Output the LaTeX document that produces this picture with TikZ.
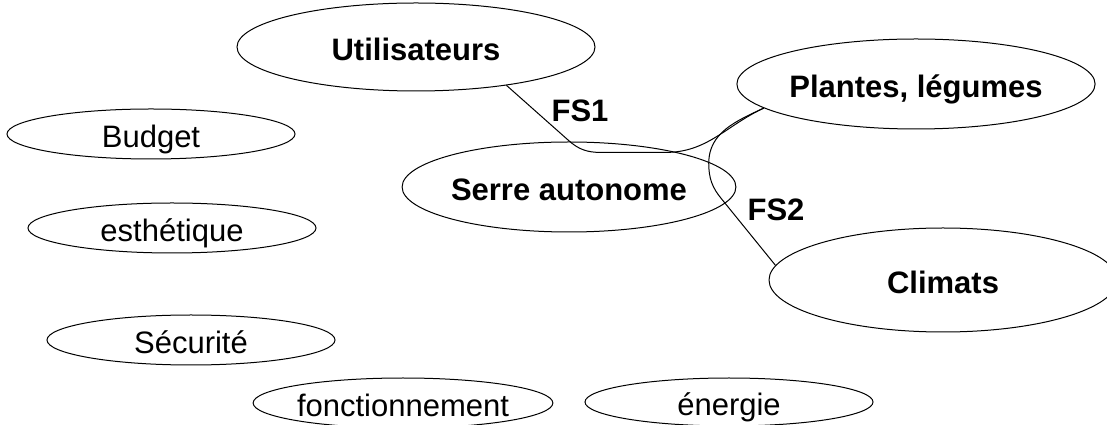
\documentclass[tikz,border=0pt]{standalone}
\usepackage{fontspec}
\setmainfont{Liberation Sans}
\usetikzlibrary{shapes.geometric, positioning}
\tikzset{
    % Base Ellipse Style
    bubble/.style={
        ellipse,
        draw=black,
        line width=1pt,
        inner sep=0pt,
        text height=27pt,
        text depth=0pt,
        font=\fontsize{31}{37}\selectfont
    },
    % Specific Role Styles
    mainBubble/.style={bubble, font=\fontsize{31}{37}\selectfont\bfseries},
    sideBubble/.style={bubble, minimum width=288pt, minimum height=50pt},
    % Connector & Label Styles
    link/.style={draw=black, line width=1pt},
    fsLabel/.style={font=\fontsize{31}{37}\selectfont\bfseries, inner sep=0pt}
}

\begin{document}
\begin{tikzpicture}[x=1pt, y=1pt]

    \useasboundingbox (0,0) rectangle (1107,425);

    % --- CENTRE AND PARTNERS ---
    \node (serre) [mainBubble, minimum width=320pt, minimum height=90pt] at (569,238) {Serre autonome};
    \node (uti) [mainBubble, minimum width=358pt, minimum height=88pt] at (416,378) {Utilisateurs};
    \node (plg) [mainBubble, minimum width=354pt, minimum height=90pt] at (916,341) {Plantes, légumes};
    \node (cli) [mainBubble, minimum width=348pt, minimum height=104pt] at (943,145) {Climats};

    % --- CONSTRAINTS (Left and Bottom) ---
    \node (budget) [sideBubble] at (151,291) {Budget};
    \node (esth) [sideBubble] at (172,197) {esthétique};
    \node (secu) [sideBubble] at (191,85) {Sécurité};
    \node (fonct) [sideBubble, minimum width=296pt] at (403,22) {fonctionnement};
    \node (energie) [sideBubble, minimum height=48pt] at (729,23) {énergie};

    % --- Service Functions ---
    \draw [link] (uti.-23) -- ++(62,-55) to[out=-42, in=180] ++(32,-12)
        -- ++(65,0) to[out=0, in=205] (plg.189);
    \draw [link] (plg.189) to[out=205, in=90] ++(-55,-55)
        to[out=-90, in=130] ++(13,-36) -- (cli.175);

    \node (fs1) [fsLabel] at (580,314) {FS1};
    \node (fs2) [fsLabel] at (776,215) {FS2};

\end{tikzpicture}
\end{document}
